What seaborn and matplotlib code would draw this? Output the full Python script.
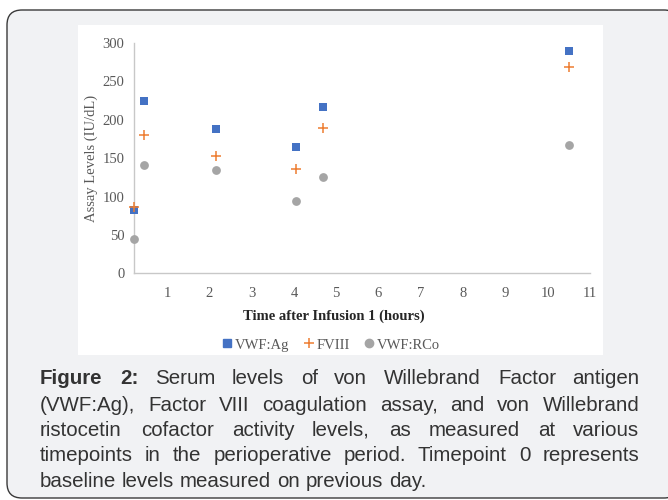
import matplotlib
matplotlib.use("Agg")
import matplotlib.pyplot as plt
from matplotlib.patches import FancyBboxPatch, Rectangle
from matplotlib.lines import Line2D
from matplotlib.transforms import IdentityTransform
import seaborn as sns
import pandas as pd

# ---------------- data ----------------
time_hours = [0.22, 0.45, 2.16, 4.05, 4.69, 10.5]
vwf_ag = [83, 224, 188, 165, 216, 289]
fviii = [87, 180, 153, 136, 189, 269]
vwf_rco = [45, 141, 135, 94, 125, 167]
series_names = ["VWF:Ag", "FVIII", "VWF:RCo"]
x_ticks = [1, 2, 3, 4, 5, 6, 7, 8, 9, 10, 11]
y_ticks = [0, 50, 100, 150, 200, 250, 300]
caption_lines = [
    "Figure 2: Serum levels of von Willebrand Factor antigen",
    "(VWF:Ag), Factor VIII coagulation assay, and von Willebrand",
    "ristocetin cofactor activity levels, as measured at various",
    "timepoints in the perioperative period. Timepoint 0 represents",
    "baseline levels measured on previous day.",
]

# ---------------- style ----------------
sns.set_style("white")
plt.rcParams["font.family"] = ["Liberation Serif", "DejaVu Serif"]

W, H = 668, 500
fig = plt.figure(figsize=(W / 100, H / 100), dpi=100)
fig.patch.set_facecolor("white")

# outer rounded box
box = FancyBboxPatch((7, 2), 672, 488, boxstyle="round,pad=0,rounding_size=15",
                     transform=IdentityTransform(), facecolor="#f1f2f4",
                     edgecolor="#3a3a3a", linewidth=1.0, zorder=-3)
fig.add_artist(box)
# white chart area
fig.add_artist(Rectangle((78, H - 355), 525, 330, transform=IdentityTransform(),
                         facecolor="white", edgecolor="none", zorder=-2))

# axes: left 134, right 590, top 43, bottom 273 (pixels)
ax = fig.add_axes([134 / W, 1 - 273.3 / H, (590 - 134) / W, (273.3 - 43) / H])
ax.set_facecolor("none")

df = pd.DataFrame({"time": time_hours, "VWF:Ag": vwf_ag, "FVIII": fviii, "VWF:RCo": vwf_rco})
colors = {"VWF:Ag": "#4472c4", "FVIII": "#ed7d31", "VWF:RCo": "#a5a5a5"}

sns.scatterplot(data=df, x="time", y="VWF:RCo", ax=ax, marker="o", s=40,
                color=colors["VWF:RCo"], linewidth=0, clip_on=False, zorder=3)
sns.scatterplot(data=df, x="time", y="FVIII", ax=ax, marker="+", s=58,
                color=colors["FVIII"], linewidth=1.1, clip_on=False, zorder=4)
sns.scatterplot(data=df, x="time", y="VWF:Ag", ax=ax, marker="s", s=38,
                color=colors["VWF:Ag"], linewidth=0, clip_on=False, zorder=3)

ax.set_xlim(0.22, 11)
ax.set_ylim(0, 300)
ax.set_xticks(x_ticks)
ax.set_yticks(y_ticks)
for s in ["top", "right"]:
    ax.spines[s].set_visible(False)
for s in ["left", "bottom"]:
    ax.spines[s].set_color("#c8c8c8")
    ax.spines[s].set_linewidth(1.0)
ax.tick_params(axis="x", direction="out", length=4, width=1.0, color="#c8c8c8",
               labelsize=10.5, labelcolor="#595959", pad=6)
ax.tick_params(axis="y", direction="out", length=3, width=1.0, color="#c8c8c8",
               labelsize=10.5, labelcolor="#595959", pad=4)
ax.set_xlabel("")
ax.set_ylabel("")

fig.text(334 / W, 1 - 316 / H, "Time after Infusion 1 (hours)", ha="center", va="center",
         fontsize=10.5, color="#262626", fontweight="bold")
fig.text(91 / W, 1 - 158 / H, "Assay Levels (IU/dL)", ha="center", va="center",
         rotation=90, fontsize=10.5, color="#595959")

handles = [
    Line2D([], [], linestyle="none", marker="s", markersize=6, color=colors["VWF:Ag"]),
    Line2D([], [], linestyle="none", marker="+", markersize=7.5, markeredgewidth=1.1, color=colors["FVIII"]),
    Line2D([], [], linestyle="none", marker="o", markersize=6, color=colors["VWF:RCo"]),
]
leg = ax.legend(handles, series_names, loc="center", bbox_to_anchor=(331 / W, 1 - 345 / H),
                bbox_transform=fig.transFigure, ncol=3, frameon=False, handlelength=0.7,
                handletextpad=0.15, columnspacing=1.0, fontsize=10.5)
for t in leg.get_texts():
    t.set_color("#595959")

# ---------------- caption (justified) ----------------
cap_family = "Liberation Sans"
cap_size = 14.8
left_px, right_px = 40.5, 639.5
baselines = [384, 411, 436, 461, 487]
renderer = fig.canvas.get_renderer()

def word_width(word, bold, size):
    t = fig.text(0, 0, word, fontsize=size, family=cap_family,
                 fontweight="bold" if bold else "normal")
    w = t.get_window_extent(renderer).width
    t.remove()
    return w

def line_words(i, line):
    return [(w, i == 0 and j < 2) for j, w in enumerate(line.split(" "))]

space_ratio = 0.278
while True:
    ok = True
    for i, line in enumerate(caption_lines[:-1]):
        words = line_words(i, line)
        tot = sum(word_width(w, b, cap_size) for w, b in words)
        minspace = cap_size * 100 / 72 * space_ratio * 0.9
        if tot + minspace * (len(words) - 1) > right_px - left_px:
            ok = False
            break
    if ok:
        break
    cap_size -= 0.25

for i, line in enumerate(caption_lines):
    words = line_words(i, line)
    widths = [word_width(w, b, cap_size) for w, b in words]
    if i < len(caption_lines) - 1:
        gap = (right_px - left_px - sum(widths)) / (len(words) - 1)
    else:
        gap = cap_size * 100 / 72 * space_ratio
    x = left_px
    for (w, b), wd in zip(words, widths):
        fig.text(round(x) / W, 1 - baselines[i] / H, w, fontsize=cap_size, family=cap_family,
                 fontweight="bold" if b else "normal", color="#333333",
                 ha="left", va="baseline")
        x += wd + gap

fig.savefig("out.png", dpi=100)
